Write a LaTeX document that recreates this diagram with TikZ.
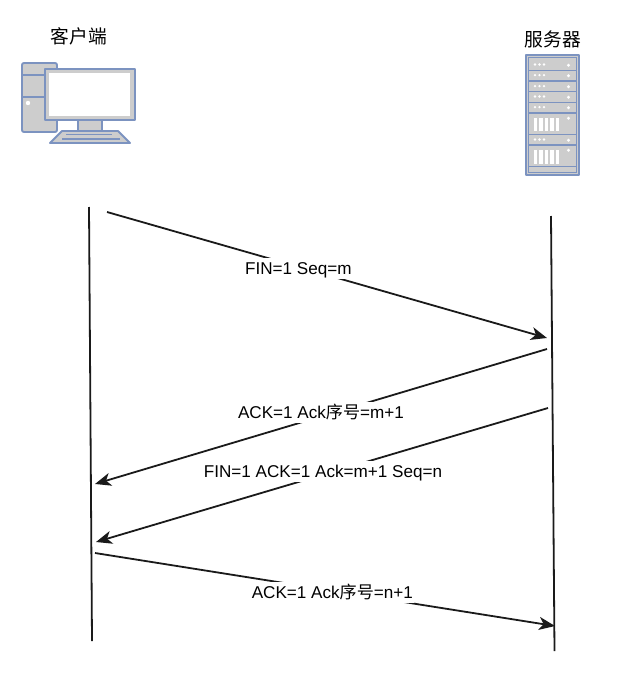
\documentclass[tikz,border=0pt]{standalone}
\usepackage{fontspec}
\setmainfont{Liberation Sans}
\newfontfamily\cjk{Noto Sans CJK SC}
\usetikzlibrary{arrows.meta}
\definecolor{iconblue}{HTML}{7C93C0}
\definecolor{icongrey}{HTML}{CDCDCD}
\definecolor{inkline}{HTML}{1A1A1A}
\tikzset{
  x=1pt,y=-1pt,
  icon/.style={draw=iconblue,fill=icongrey,line width=1.9pt,line join=round},
  iconthin/.style={draw=iconblue,line width=1.6pt},
  lifeline/.style={draw=inkline,line width=1.8pt},
  msg/.style={draw=inkline,line width=1.8pt,-{Stealth[length=16pt,width=13pt,inset=4.5pt]}},
  lbl/.style={fill=white,inner xsep=1pt,inner ysep=1.5pt,text height=14.5pt,text depth=3.5pt,font=\fontsize{17.1}{20}\selectfont,text=black},
  head/.style={inner sep=0pt,font=\cjk\fontsize{18.7}{22}\selectfont,text=black},
  rowbox/.style={fill=icongrey,draw=none},
  dots/.style={fill=white,draw=none}
}
\begin{document}
\begin{tikzpicture}
\useasboundingbox (0,0) rectangle (644,696);
\node[head] (client) at (79,36) {客户端};
\node[head] (server) at (553,39) {服务器};
% computer
\draw[icon,rounded corners=2pt] (22,63) rectangle (57,132);
\draw[iconthin] (22,75) -- (57,75) (22,97) -- (57,97);
\fill[white] (28,103) circle (2.2pt);
\draw[icon] (78,118) rectangle (102,131);
\draw[icon] (45,69) rectangle (135,120);
\fill[white] (49,73) rectangle (131,116.5);
\draw[icongrey,line width=1.6pt] (48.5,72.5) rectangle (131,117);
\draw[icon] (62,131) -- (118,131) -- (130,143) -- (50,143) -- cycle;
\draw[iconthin,line width=1.3pt] (66,134.5) -- (112,134.5) (62,139) -- (120,139);
% server
\draw[icon,line width=1.8pt] (526,55) rectangle (579,175);
\draw[iconthin,line width=1.4pt] (528.5,57.5) rectangle (576.5,172.5);
\foreach \t/\b in {60.7/69.3,71.3/80,82.3/90.7,92.7/101.3,103.3/112,135.7/144}{
  \fill[rowbox] (530,\t) rectangle (574,\b);
  \draw[iconthin,line width=1.3pt] (528.5,\b+1) -- (576.5,\b+1);
  \foreach \x in {535,539.5,544}{\fill[dots] (\x,\t+3.8) circle (1.3pt);}
  \fill[white] (568.5,\t+4.5) circle (1.6pt);
}
\foreach \t/\b in {114.3/133.3,146.3/165.7}{
  \fill[rowbox] (530,\t) rectangle (574,\b);
  \draw[iconthin,line width=1.3pt] (528.5,\b+1) -- (576.5,\b+1);
  \foreach \x in {533.5,539,544.5,550,555.5}{\fill[white] (\x,\t+4) rectangle (\x+3.5,\b-2);}
  \fill[white] (568.5,\t+4) circle (1.6pt);
}
% lifelines
\coordinate (lt) at (89,207);
\coordinate (lb) at (92,641);
\coordinate (rt) at (551,216);
\coordinate (rb) at (554.5,651);
\draw[lifeline] (lt) -- (lb);
\draw[lifeline] (rt) -- (rb);
% messages
\coordinate (a1) at (107,212); \coordinate (b1) at (547,338);
\coordinate (a2) at (547,349); \coordinate (b2) at (95,484);
\coordinate (a3) at (548,408); \coordinate (b3) at (96,542);
\coordinate (a4) at (95,553);  \coordinate (b4) at (555,626);
\draw[msg] (a1) -- node[lbl,pos=.435,yshift=-2pt] (m1) {FIN=1 Seq=m} (b1);
\draw[msg] (a2) -- node[lbl,pos=.5,yshift=4pt] (m2) {ACK=1 Ack{\cjk 序号}=m+1} (b2);
\draw[msg] (a3) -- node[lbl,pos=.5,yshift=3.5pt,xshift=1pt] (m3) {FIN=1 ACK=1 Ack=m+1 Seq=n} (b3);
\draw[msg] (a4) -- node[lbl,pos=.516,yshift=-2pt] (m4) {ACK=1 Ack{\cjk 序号}=n+1} (b4);
\end{tikzpicture}
\end{document}
